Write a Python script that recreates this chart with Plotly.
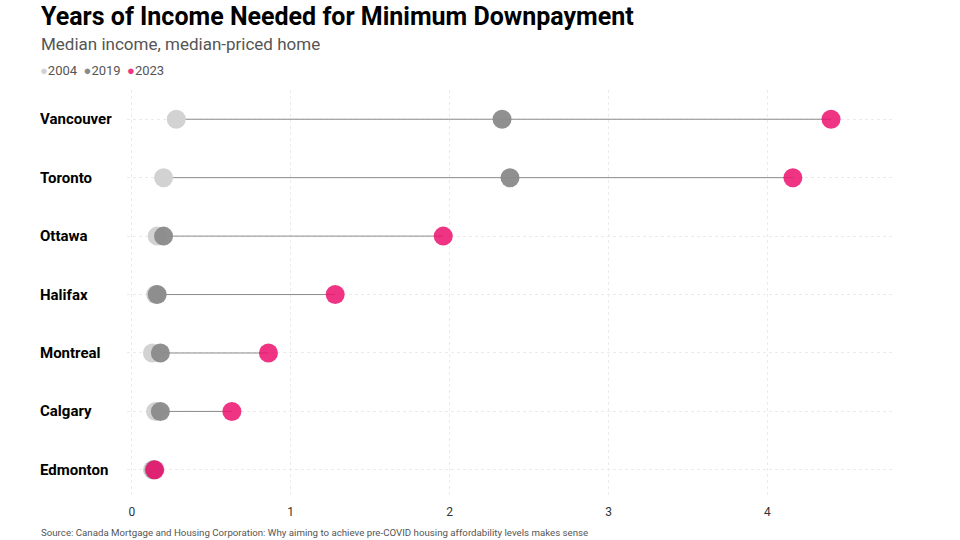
import plotly.graph_objects as go

cities = ["Vancouver", "Toronto", "Ottawa", "Halifax", "Montreal", "Calgary", "Edmonton"]
y2004 = [0.28, 0.20, 0.16, 0.15, 0.13, 0.15, 0.13]
y2019 = [2.33, 2.38, 0.20, 0.16, 0.18, 0.18, 0.14]
y2023 = [4.40, 4.16, 1.96, 1.28, 0.86, 0.63, 0.145]
x_ticks = [0, 1, 2, 3, 4]

years = ["2004", "2019", "2023"]
colors = {"2004": "#d2d2d2", "2019": "#8a8a8a", "2023": "#eb106c"}
opac = {"2004": 1.0, "2019": 0.95, "2023": 0.85}
legend_colors = {"2004": "#d2d2d2", "2019": "#8a8a8a", "2023": "#ee3482"}
series = {"2004": y2004, "2019": y2019, "2023": y2023}

FONT = "Roboto"
W, H = 960, 540
ML, MR, MT, MB = 127, 67, 90, 45
PW, PH = W - ML - MR, H - MT - MB


def px_x(px):
    return (px - ML) / PW


def px_y(py):
    return (H - MB - py) / PH


fig = go.Figure()

# connecting lines
lx, ly = [], []
for c, a, b, d in zip(cities, y2004, y2019, y2023):
    lx += [min(a, b, d), max(a, b, d), None]
    ly += [c, c, None]
fig.add_trace(go.Scatter(x=lx, y=ly, mode="lines", line=dict(color="#8a8a8a", width=1),
                         hoverinfo="skip", showlegend=False))

for yr in years:
    fig.add_trace(go.Scatter(x=series[yr], y=cities, mode="markers", name=yr,
                             marker=dict(size=19, color=colors[yr], opacity=opac[yr],
                                         line=dict(width=0)),
                             showlegend=False))

fig.update_layout(
    width=W, height=H,
    margin=dict(l=ML, r=MR, t=MT, b=MB),
    paper_bgcolor="white", plot_bgcolor="white",
    font=dict(family=FONT, color="#333"),
    xaxis=dict(range=[-0.03, 4.79], tickvals=x_ticks, showgrid=True,
               gridcolor="#ebebeb", griddash="dot", gridwidth=1, zeroline=False,
               showline=False, ticks="", tickfont=dict(size=12, color="#333"),
               ticklabelstandoff=8),
    yaxis=dict(categoryorder="array", categoryarray=cities[::-1], range=[-0.43, 6.5],
               showgrid=True, gridcolor="#ebebeb", griddash="dot", gridwidth=1,
               showticklabels=False, zeroline=False, showline=False, ticks=""),
)

# city labels
for c in cities:
    fig.add_annotation(x=px_x(38), xref="paper", y=c, yref="y", text=c, showarrow=False,
                       xanchor="left", yanchor="middle",
                       font=dict(family=FONT, size=15, color="#000", weight="bold"))

fig.add_annotation(x=px_x(39), xref="paper", y=px_y(16), yref="paper",
                   text="<b>Years of Income Needed for Minimum Downpayment</b>",
                   showarrow=False, xanchor="left", yanchor="middle",
                   font=dict(family=FONT, size=25, color="#000"))
fig.add_annotation(x=px_x(39), xref="paper", y=px_y(44), yref="paper",
                   text="Median income, median-priced home",
                   showarrow=False, xanchor="left", yanchor="middle",
                   font=dict(family=FONT, size=17, color="#555"))
legend_txt = "&nbsp;&nbsp;".join(
    f"<span style='color:{legend_colors[yr]}'>●</span>{yr}" for yr in years)
fig.add_annotation(x=px_x(38), xref="paper", y=px_y(70), yref="paper",
                   text=legend_txt, showarrow=False, xanchor="left", yanchor="middle",
                   font=dict(family=FONT, size=13, color="#555"))
fig.add_annotation(x=px_x(39), xref="paper", y=px_y(532), yref="paper",
                   text="Source: Canada Mortgage and Housing Corporation: Why aiming to achieve pre-COVID housing affordability levels makes sense",
                   showarrow=False, xanchor="left", yanchor="middle",
                   font=dict(family=FONT, size=9.7, color="#555"))

fig.write_html("out.html", config={"displayModeBar": False},
               post_script="document.body.style.margin='0';")
